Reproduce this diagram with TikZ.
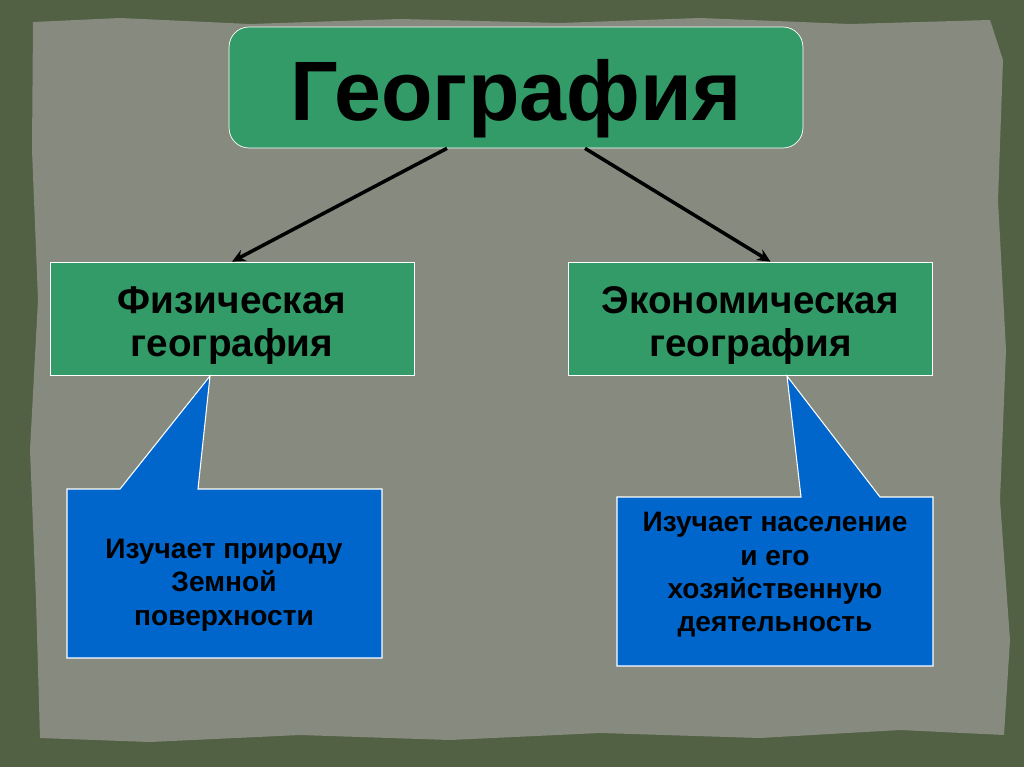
\documentclass[tikz,border=0pt]{standalone}
\usepackage{fontspec}
\setmainfont{Liberation Sans}
\usetikzlibrary{positioning,arrows.meta}
\definecolor{paper}{RGB}{134,138,127}
\definecolor{frame}{RGB}{82,96,68}
\definecolor{boxgreen}{RGB}{51,155,104}
\definecolor{noteblue}{RGB}{0,102,204}
\tikzset{
  branch/.style={draw=white, fill=boxgreen, rectangle, minimum width=7.28cm, minimum height=2.26cm, align=center, text height=1.7cm, text depth=0.16cm, font=\bfseries\fontsize{22}{25}\selectfont},
  note/.style={align=center, font=\bfseries\fontsize{16}{19}\selectfont},
  callout/.style={draw=white, fill=noteblue, line width=0.6pt},
}
\begin{document}
\begin{tikzpicture}[>={Stealth[length=7.5pt,width=7pt]}, x=0.02cm, y=-0.02cm]
\useasboundingbox (0,0) rectangle (1024,767);
\fill[frame] (0,0) rectangle (1024,767);
\fill[paper] (33,22) -- (120,18) -- (250,24) -- (400,19) -- (560,23) -- (700,18) -- (850,24) -- (990,20) -- (1003,60) -- (998,200) -- (1006,350) -- (1000,500) -- (1010,640) -- (1004,735) -- (900,730) -- (760,738) -- (600,733) -- (450,740) -- (300,735) -- (150,742) -- (40,738) -- (36,600) -- (30,450) -- (38,300) -- (32,150) -- cycle;
\node[draw=white, fill=boxgreen, rounded corners=0.4cm, minimum width=11.48cm, minimum height=2.42cm, text height=1.5cm, text depth=0.16cm, font=\bfseries\fontsize{48}{56}\selectfont] (geo) at (516,87.5) {География};
\node[branch] (phys) at (232,318.5) {Физическая\\география};
\node[branch] (econ) at (750.5,318.5) {Экономическая\\география};
\draw[->, line width=2pt] ([xshift=-1.38cm]geo.south) -- (phys.north);
\draw[->, line width=2pt] ([xshift=1.38cm]geo.south) -- ([xshift=0.4cm]econ.north);
% callouts
\draw[callout] (67,658) -- (67,489) -- (120,489) -- (210,376) -- (198,489) -- (382,489) -- (382,658) -- cycle;
\node[note] (physnote) at (224,585) {Изучает природу\\Земной\\поверхности};
\draw[callout] (617,666) -- (617,497) -- (801,497) -- (787,376) -- (880,497) -- (933,497) -- (933,666) -- cycle;
\node[note] (econnote) at (775,575) {Изучает население\\и его\\хозяйственную\\деятельность};
\end{tikzpicture}
\end{document}
